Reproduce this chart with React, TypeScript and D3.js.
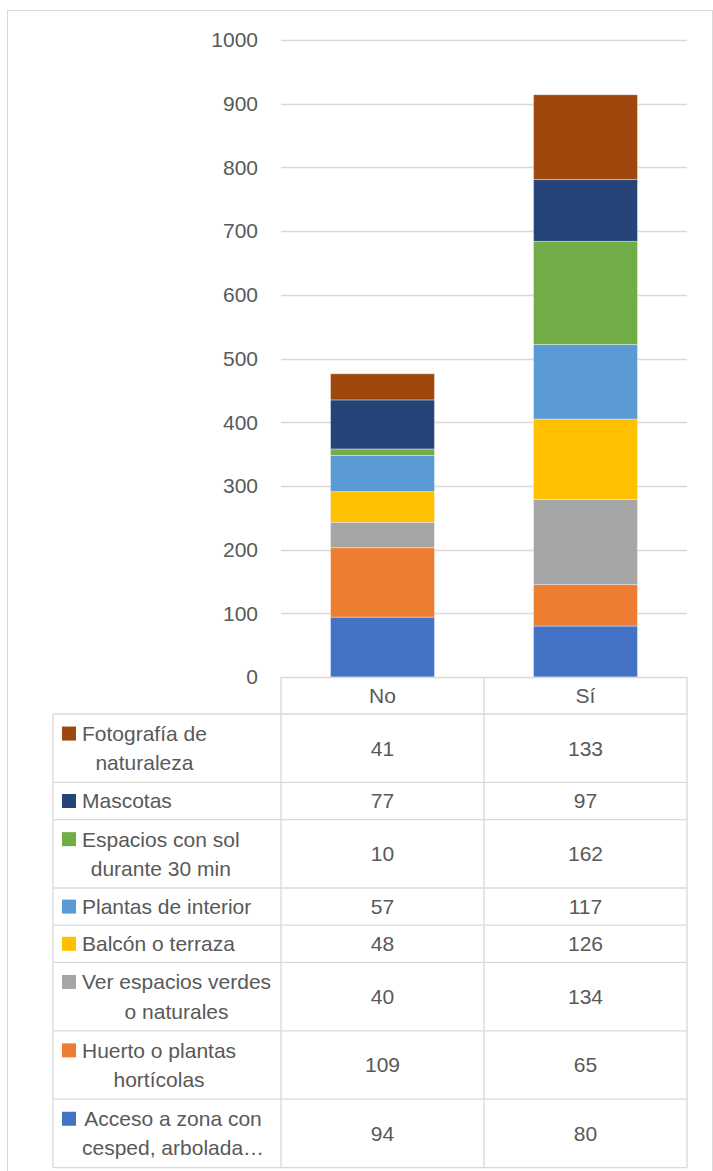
import React from "react";
import * as d3 from "d3";

const categories = ["No", "Sí"];
const seriesNames = [
  "Acceso a zona con\ncesped, arbolada…",
  "Huerto o plantas\nhortícolas",
  "Ver espacios verdes\no naturales",
  "Balcón o terraza",
  "Plantas de interior",
  "Espacios con sol\ndurante 30 min",
  "Mascotas",
  "Fotografía de\nnaturaleza",
];
const seriesColors = ["#4472C4", "#ED7D31", "#A5A5A5", "#FFC000", "#5B9BD5", "#70AD47", "#264478", "#9E480E"];
const valuesNo = [94, 109, 40, 48, 57, 10, 77, 41];
const valuesSi = [80, 65, 134, 126, 117, 162, 97, 133];
const yTicks = [0, 100, 200, 300, 400, 500, 600, 700, 800, 900, 1000];

const FONT = "'Liberation Sans', Arial, sans-serif";
const FS = 21;
const TXT = "#595959";
const GRID = "#d9d9d9";

let ctx: CanvasRenderingContext2D | null = null;
function measure(t: string) {
  if (!ctx) {
    const c = document.createElement("canvas");
    ctx = c.getContext("2d");
  }
  if (!ctx) return t.length * FS * 0.5;
  ctx.font = `${FS}px 'Liberation Sans', Arial, sans-serif`;
  return ctx.measureText(t).width;
}

export default function App() {
  const W = 713, H = 1171;
  const plotL = 281, plotR = 687, yTop = 40, yBot = 677;
  const y = d3.scaleLinear().domain([0, 1000]).range([yBot, yTop]);
  const x = d3.scaleBand<string>().domain(categories).range([plotL, plotR]).paddingInner(0.488).paddingOuter(0.244);
  const step = x.step();

  const rows = categories.map((c, i) => {
    const r: any = { cat: c };
    const vals = i === 0 ? valuesNo : valuesSi;
    seriesNames.forEach((s, j) => (r[s] = vals[j]));
    return r;
  });
  const stacked = d3.stack<any>().keys(seriesNames)(rows);

  // table
  const tableTop = yBot;
  const headerBottom = 714;
  const legendLeft = 53;
  const lineGap = 29.3;
  const order = seriesNames.map((_, i) => i).reverse();
  let cur = headerBottom;
  const tableRows = order.map((si) => {
    const lines = seriesNames[si].split("\n");
    const h = 37.2 + (lines.length - 1) * 31.2;
    const r = { si, lines, top: cur, h };
    cur += h;
    return r;
  });
  const tableBottom = cur;
  const colEdges = categories.map((_, i) => plotL + i * step).concat([plotL + categories.length * step]);

  return (
    <svg width={W} height={H} style={{ position: "absolute", left: 0, top: 0, background: "#fff" }} fontFamily={FONT}>
      <rect x={7.5} y={10.5} width={705} height={1175} fill="#fff" stroke={GRID} strokeWidth={1} />
      {/* gridlines */}
      {yTicks.map((t) => (
        <g key={t}>
          {t > 0 && <line x1={plotL} x2={plotR} y1={Math.round(y(t)) + 0.5} y2={Math.round(y(t)) + 0.5} stroke={GRID} strokeWidth={1.3} />}
          <text x={258} y={y(t)} dy="0.35em" textAnchor="end" fontSize={FS} fill={TXT}>{t}</text>
        </g>
      ))}
      {/* bars */}
      {stacked.map((layer, li) => (
        <g key={layer.key} fill={seriesColors[li]}>
          {layer.map((d, di) => (
            <rect
              key={di}
              x={x(categories[di])!}
              width={x.bandwidth()}
              y={y(d[1])}
              height={y(d[0]) - y(d[1])}
              stroke="#ffffff"
              strokeOpacity={0.45}
              strokeWidth={0.8}
            />
          ))}
        </g>
      ))}
      {/* table lines */}
      <g stroke={GRID} strokeWidth={1.3} fill="none">
        <line x1={plotL} x2={plotR} y1={tableTop + 0.5} y2={tableTop + 0.5} />
        {colEdges.map((cx, i) => (
          <line key={i} x1={cx} x2={cx} y1={tableTop} y2={tableBottom} />
        ))}
        <line x1={legendLeft} x2={legendLeft} y1={headerBottom} y2={tableBottom} />
        <line x1={legendLeft} x2={plotR} y1={headerBottom} y2={headerBottom} />
        {tableRows.map((r, i) => (
          <line key={i} x1={legendLeft} x2={plotR} y1={r.top + r.h} y2={r.top + r.h} />
        ))}
      </g>
      {/* header */}
      {categories.map((c) => (
        <text key={c} x={x(c)! + x.bandwidth() / 2} y={(tableTop + headerBottom) / 2} dy="0.35em" textAnchor="middle" fontSize={FS} fill={TXT}>
          {c}
        </text>
      ))}
      {/* rows */}
      {tableRows.map((r) => {
        const cy = r.top + r.h / 2;
        const widths = r.lines.map(measure);
        const maxW = Math.max(...widths);
        const blockL = 82;
        const n = r.lines.length;
        const firstCy = cy + (0 - (n - 1) / 2) * lineGap;
        return (
          <g key={r.si}>
            <rect x={62} y={firstCy - 7} width={14} height={14} fill={seriesColors[r.si]} />
            {r.lines.map((ln, k) => (
              <text key={k} x={blockL + maxW / 2} y={cy + (k - (n - 1) / 2) * lineGap} dy="0.35em" textAnchor="middle" fontSize={FS} fill={TXT}>
                {ln}
              </text>
            ))}
            {categories.map((c, ci) => (
              <text key={c} x={x(c)! + x.bandwidth() / 2} y={cy} dy="0.35em" textAnchor="middle" fontSize={FS} fill={TXT}>
                {(ci === 0 ? valuesNo : valuesSi)[r.si]}
              </text>
            ))}
          </g>
        );
      })}
    </svg>
  );
}
